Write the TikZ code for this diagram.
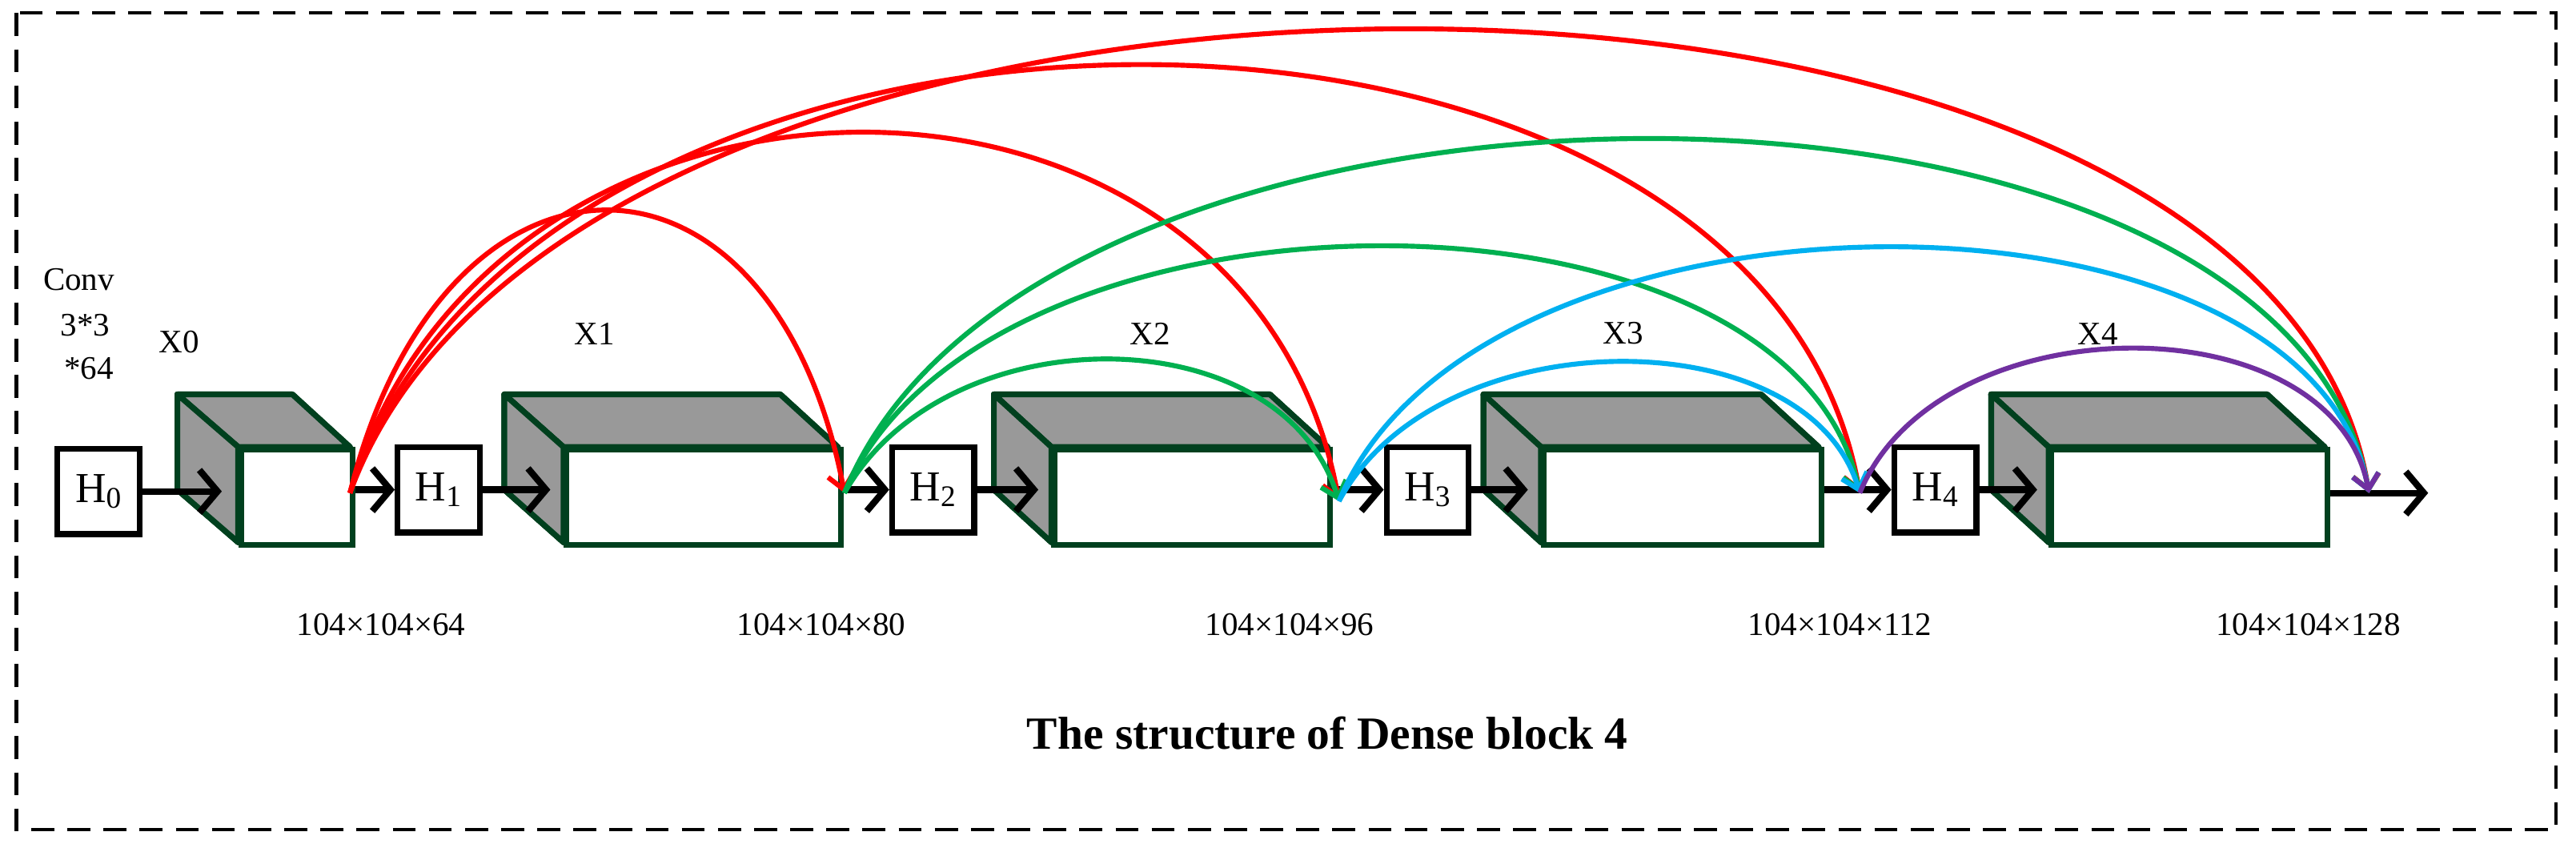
\documentclass[tikz,border=0pt]{standalone}
\usepackage{fontspec}
\setmainfont{Liberation Serif}
\usetikzlibrary{arrows.meta}
\definecolor{dg}{RGB}{0,64,30}
\definecolor{gr}{RGB}{153,153,153}
\definecolor{cred}{RGB}{255,0,0}
\definecolor{cgreen}{RGB}{0,176,80}
\definecolor{cblue}{RGB}{0,176,240}
\definecolor{cpurple}{RGB}{112,48,160}
\tikzset{
  hbox/.style={draw=black,line width=3.5pt,fill=white,minimum width=50pt,minimum height=52pt,inner sep=0pt,font=\fontsize{26}{26}\selectfont},
  face/.style={draw=dg,line width=3.5pt,fill=white,inner sep=0pt},
  shade/.style={draw=dg,line width=3.5pt,fill=gr,line join=round},
  flow/.style={line width=4pt,-{Straight Barb[length=11pt,width=26pt,line width=4pt]}},
  skip/.style={line width=3pt,-{Straight Barb[length=9pt,width=16pt,line width=3pt]}},
  lbl/.style={font=\fontsize{20}{20}\selectfont,inner sep=0pt},
}
\newcommand{\mycube}[4]{%
  \fill[shade] (#2,240) -- (#4-35,240) -- (#4,272) -- (#3,272) -- cycle;
  \fill[shade] (#2,240) -- (#3,272) -- (#3,330) -- (#2,298) -- cycle;
  \draw[shade] (#2,240) -- (#4-35,240) -- (#4,272) -- (#3,272) -- cycle;
  \draw[shade] (#2,240) -- (#3,272) -- (#3,330) -- (#2,298) -- cycle;
  \node[face,minimum width={(#4-#3)*1pt},minimum height=58pt,anchor=north west] (#1) at (#3,272) {};
}
\begin{document}
\begin{tikzpicture}[x=1pt,y=-1pt]
\useasboundingbox (0,0) rectangle (1568,518);
\draw[line width=2pt,dash pattern=on 14pt off 8pt] (10,8) rectangle (1556,505);
% cubes
\mycube{c0}{108}{145}{213}
\mycube{c1}{307}{343}{510}
\mycube{c2}{605}{640}{808}
\mycube{c3}{903}{938}{1107}
\mycube{c4}{1212}{1247}{1415}
% H boxes
\node[hbox] (h0) at (60,299) {H\textsubscript{0}};
\node[hbox] (h1) at (267,298) {H\textsubscript{1}};
\node[hbox] (h2) at (568,298) {H\textsubscript{2}};
\node[hbox] (h3) at (869,298) {H\textsubscript{3}};
\node[hbox] (h4) at (1178,298) {H\textsubscript{4}};
\coordinate (end) at (1478,300);
% main flow
\draw[flow] (h0.east) -- (135,299);
\draw[flow] (c0.east|-h1.west) -- (h1.west);
\draw[flow] (h1.east) -- (335,298);
\draw[flow] (c1.east|-h2.west) -- (h2.west);
\draw[flow] (h2.east) -- (632,298);
\draw[flow] (c2.east|-h3.west) -- (h3.west);
\draw[flow] (h3.east) -- (930,298);
\draw[flow] (c3.east|-h4.west) -- (h4.west);
\draw[flow] (h4.east) -- (1240,298);
\draw[flow] (c4.east|-end) -- (end);
% skip connections
\coordinate (p0) at (213,300);
\coordinate (p1) at (514,300);
\coordinate (p2) at (815,305);
\coordinate (p3) at (1132,300);
\coordinate (p4) at (1442,300);
\draw[skip,cred] (p0) .. controls (270,71) and (470,71) .. (p1);
\draw[skip,cred] (p0) .. controls (300,7) and (760,7) .. (p2);
\draw[skip,cred] (p0) .. controls (330,-47) and (1070,-47) .. (p3);
\draw[skip,cred] (p0) .. controls (350,-76) and (1380,-76) .. (p4);
\draw[skip,cgreen] (p1) .. controls (575,191) and (780,191) .. (p2);
\draw[skip,cgreen] (p1) .. controls (600,100) and (1090,100) .. (p3);
\draw[skip,cgreen] (p1) .. controls (630,13) and (1390,13) .. (p4);
\draw[skip,cblue] (p2) .. controls (875,193) and (1100,193) .. (p3);
\draw[skip,cblue] (p2) .. controls (900,100) and (1405,100) .. (p4);
\draw[skip,cpurple] (p3) .. controls (1180,183) and (1420,183) .. (p4);
% labels
\node[lbl] (conv) at (48,170) {Conv};
\node[lbl] (k1) at (52,198) {3*3};
\node[lbl] (k2) at (54,224) {*64};
\node[lbl] (x0) at (109,208) {X0};
\node[lbl] (x1) at (362,203) {X1};
\node[lbl] (x2) at (700,203) {X2};
\node[lbl] (x3) at (988,203) {X3};
\node[lbl] (x4) at (1277,203) {X4};
\node[lbl] (d0) at (232,380) {104×104×64};
\node[lbl] (d1) at (500,380) {104×104×80};
\node[lbl] (d2) at (785,380) {104×104×96};
\node[lbl] (d3) at (1120,380) {104×104×112};
\node[lbl] (d4) at (1405,380) {104×104×128};
\node[font=\fontsize{28}{28}\selectfont\bfseries,inner sep=0pt] (title) at (808,446) {The structure of Dense block 4};
\end{tikzpicture}
\end{document}
